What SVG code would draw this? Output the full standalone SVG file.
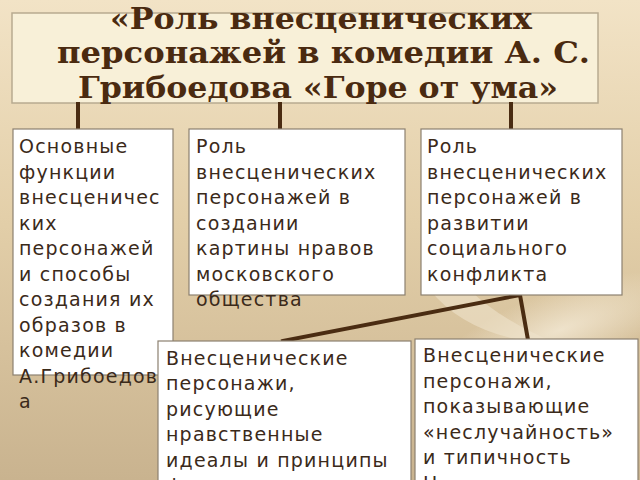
<svg xmlns="http://www.w3.org/2000/svg" width="640" height="480" viewBox="0 0 640 480">
<defs>
<linearGradient id="bg" x1="0" y1="0" x2="0" y2="1">
<stop offset="0" stop-color="#f2e3c6"/>
<stop offset="0.45" stop-color="#e3cfa9"/>
<stop offset="1" stop-color="#c9b38f"/>
</linearGradient>
<radialGradient id="glow" cx="0.5" cy="0.5" r="0.5">
<stop offset="0" stop-color="#f4ead6" stop-opacity="0.8"/>
<stop offset="1" stop-color="#f4ead6" stop-opacity="0"/>
</radialGradient>
</defs>
<style>
.box{fill:#ffffff;stroke:#8c8070;stroke-width:1.2}
.title-box{fill:#f8f0d8;stroke:#b8ab90;stroke-width:1.5}
.t{font-family:"DejaVu Sans",sans-serif;font-size:19px;fill:#3b2a1a;letter-spacing:1.2px}
.h{font-family:"DejaVu Serif",serif;font-size:30px;font-weight:bold;fill:#4a2a10}
.c{stroke:#4a2c12;stroke-width:4;fill:none;stroke-linecap:square}
</style>
<rect width="640" height="480" fill="url(#bg)"/>
<ellipse cx="560" cy="330" rx="130" ry="40" fill="url(#glow)" transform="rotate(-20 560 330)"/>
<path d="M430 290 Q470 340 560 345 Q500 320 470 290 Z" fill="#efe3cb" opacity="0.6"/>

<g id="title">
<rect class="title-box" x="12" y="13" width="586" height="90"/>
<text class="h" x="110" y="29" textLength="422" lengthAdjust="spacingAndGlyphs">«Роль внесценических</text>
<text class="h" x="57" y="63" textLength="533" lengthAdjust="spacingAndGlyphs">персонажей в комедии А. С.</text>
<text class="h" x="78" y="98" textLength="480" lengthAdjust="spacingAndGlyphs">Грибоедова «Горе от ума»</text>
</g>

<g id="connectors">
<line class="c" x1="78" y1="104" x2="78" y2="128"/>
<line class="c" x1="280" y1="104" x2="280" y2="128"/>
<line class="c" x1="511" y1="104" x2="511" y2="128"/>
<polyline class="c" points="283,341 520,295 528,340"/>
</g>

<g id="node1">
<rect class="box" x="13" y="129" width="160" height="246"/>
<text class="t" x="19" y="153">Основные</text>
<text class="t" x="19" y="179">функции</text>
<text class="t" x="19" y="204">внесценичес</text>
<text class="t" x="19" y="230">ких</text>
<text class="t" x="19" y="255">персонажей</text>
<text class="t" x="19" y="281">и способы</text>
<text class="t" x="19" y="306">создания их</text>
<text class="t" x="19" y="332">образов в</text>
<text class="t" x="19" y="357">комедии</text>
<text class="t" x="19" y="383">А.Грибоедов</text>
<text class="t" x="19" y="408">а</text>
</g>

<g id="node2">
<rect class="box" x="189" y="129" width="216" height="166"/>
<text class="t" x="196" y="153">Роль</text>
<text class="t" x="196" y="179">внесценических</text>
<text class="t" x="196" y="204">персонажей в</text>
<text class="t" x="196" y="230">создании</text>
<text class="t" x="196" y="255">картины нравов</text>
<text class="t" x="196" y="281">московского</text>
<text class="t" x="196" y="306">общества</text>
</g>

<g id="node3">
<rect class="box" x="421" y="129" width="201" height="166"/>
<text class="t" x="427" y="153">Роль</text>
<text class="t" x="427" y="179">внесценических</text>
<text class="t" x="427" y="204">персонажей в</text>
<text class="t" x="427" y="230">развитии</text>
<text class="t" x="427" y="255">социального</text>
<text class="t" x="427" y="281">конфликта</text>
</g>

<g id="node4">
<rect class="box" x="158" y="341" width="253" height="145"/>
<text class="t" x="166" y="365">Внесценические</text>
<text class="t" x="166" y="390">персонажи,</text>
<text class="t" x="166" y="416">рисующие</text>
<text class="t" x="166" y="441">нравственные</text>
<text class="t" x="166" y="467">идеалы и принципы</text>
<text class="t" x="166" y="492">ф</text>
</g>

<g id="node5">
<rect class="box" x="415" y="339" width="223" height="147"/>
<text class="t" x="423" y="362">Внесценические</text>
<text class="t" x="423" y="388">персонажи,</text>
<text class="t" x="423" y="413">показывающие</text>
<text class="t" x="423" y="439">«неслучайность»</text>
<text class="t" x="423" y="464">и типичность</text>
<text class="t" x="423" y="490">Н</text>
</g>
</svg>
